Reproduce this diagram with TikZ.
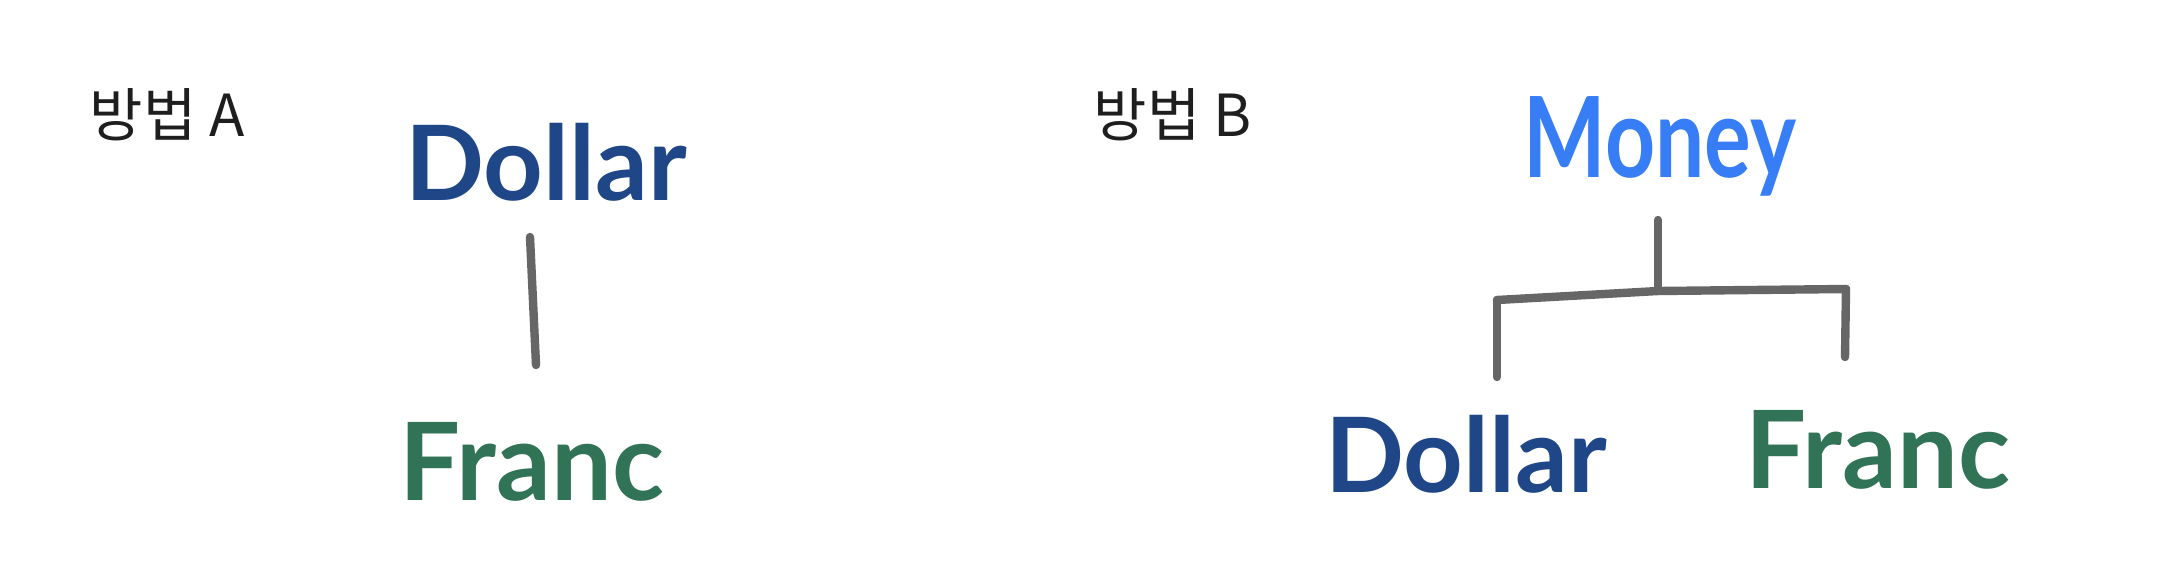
\documentclass[tikz,border=0pt]{standalone}
\usepackage{fontspec}
\usetikzlibrary{calc}
\newfontfamily\krfont{Noto Sans CJK KR}
\newfontfamily\handfont{Lato}
\definecolor{dollarblue}{HTML}{1F4788}
\definecolor{francgreen}{HTML}{317356}
\definecolor{moneyblue}{HTML}{377DF5}
\definecolor{linegray}{HTML}{666666}
\definecolor{labelblack}{HTML}{1E1E1E}
\tikzset{
  title/.style={anchor=base west, inner sep=0pt, text=labelblack, font=\krfont\fontsize{14.5pt}{16pt}\selectfont},
  hand/.style={anchor=base, inner sep=0pt, font=\handfont\bfseries\fontsize{26pt}{30pt}\selectfont},
  dollar/.style={hand, text=dollarblue},
  franc/.style={hand, text=francgreen, font=\handfont\bfseries\fontsize{27pt}{31pt}\selectfont},
  money/.style={hand, text=moneyblue, font=\handfont\bfseries\fontsize{28pt}{32pt}\selectfont},
  conn/.style={draw=linegray, line width=2.1pt, line cap=round, line join=round}
}
\begin{document}
\begin{tikzpicture}[x=0.25pt,y=-0.25pt]
\useasboundingbox[fill=white] (0,0) rectangle (2163,569);
% method A
\node[title] (ta) at (89,136) {방법 A};
\node[dollar] (dA) at (546,200) {Dollar};
\node[franc] (fA) at (532,500) {Franc};
\draw[conn] ($(dA.base)+(-16,37)$) -- ($(fA.base)+(4,-135)$);
% method B
\node[title] (tb) at (1093,136) {방법 B};
\node[money] (mo) at (1660,177) {\scalebox{0.78}[1]{Money}};
\node[dollar] (dB) at (1466,492) {Dollar};
\node[franc] (fB) at (1878,488) {Franc};
\coordinate (jl) at (1497,300);
\coordinate (jm) at (1658,291);
\coordinate (jr) at (1846,289);
\draw[conn] ($(mo.base)+(-2,43)$) -- (jm);
\draw[conn] (jl) -- (jm) -- (jr);
\draw[conn] (jl) -- ($(dB.base)+(31,-115)$);
\draw[conn] (jr) -- ($(fB.base)+(-33,-131)$);
\end{tikzpicture}
\end{document}
